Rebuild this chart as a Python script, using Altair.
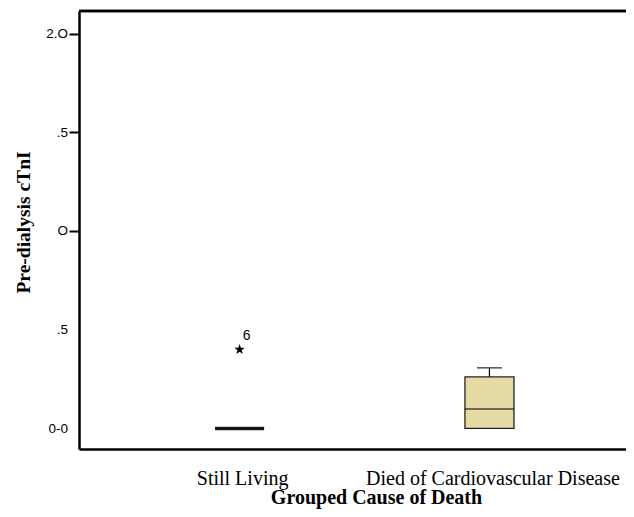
import altair as alt
import pandas as pd

# ---- data ----
categories = ["Still Living", "Died of Cardiovascular Disease"]
box_min = [0.0, 0.0]
box_q1 = [0.0, 0.0]
box_median = [0.0, 0.099]
box_q3 = [0.0, 0.261]
box_max = [0.0, 0.307]

outlier_category = ["Still Living"]
outlier_value = [0.40]
outlier_label = ["6"]

y_ticks = [0.0, 0.5, 1.0, 1.5, 2.0]
y_tick_labels = ["0-0", ".5", "O", ".5", "2.O"]

# ---- tables ----
boxes = pd.DataFrame({
    "cat": categories,
    "idx": list(range(len(categories))),
    "mn": box_min, "q1": box_q1, "med": box_median, "q3": box_q3, "mx": box_max,
})
outliers = pd.DataFrame({
    "cat": outlier_category,
    "idx": [categories.index(c) for c in outlier_category],
    "v": outlier_value,
    "lab": outlier_label,
})

W, H = 547, 438

label_expr_x = " : ".join(
    [f"datum.value == {i} ? '{c}'" for i, c in enumerate(categories)] + ["''"]
)
label_expr_y = " : ".join(
    [f"abs(datum.value - {t}) < 0.001 ? '{l}'" for t, l in zip(y_ticks, y_tick_labels)] + ["''"]
)

# category 0 at 158.5px, category 1 at 413px from the plot's left edge
x_scale = alt.Scale(domain=[-158.5 / 254.5, (W - 158.5) / 254.5], nice=False, zero=False)
y_scale = alt.Scale(domain=[-0.104, 2.114], nice=False, zero=False)

x_axis = alt.Axis(
    values=list(range(len(categories))),
    labelExpr=label_expr_x,
    title="Grouped Cause of Death",
    ticks=False, tickSize=0, grid=False,
    domainColor="black", domainWidth=2.5,
    labelFont="Liberation Serif", labelFontSize=20, labelColor="black",
    labelBaseline="alphabetic", labelPadding=35, labelFlush=False, labelLimit=0,
    labelOverlap=False,
    labelOffset={"condition": {"test": "datum.value == 1", "value": 3}, "value": 2.5},
    titleFont="Liberation Serif", titleFontSize=20, titleFontWeight="bold",
    titleColor="black", titleX=297, titleY=54, titleBaseline="alphabetic",
    titleAlign="center", titleAnchor="start",
)
y_axis = alt.Axis(
    values=y_ticks,
    labelExpr=label_expr_y,
    title="Pre-dialysis cTnI",
    grid=False,
    domainColor="black", domainWidth=2.5,
    tickSize=10, tickWidth=2,
    tickColor={"condition": {"test": "datum.value >= 1", "value": "black"}, "value": "transparent"},
    labelFont="Liberation Sans", labelFontSize=13.5, labelColor="black",
    labelPadding=1.5, labelBaseline="middle",
    titleFont="Liberation Serif", titleFontSize=19.5, titleFontWeight="bold",
    titleColor="black", titleX=-56, titleY=211, titleAngle=270,
    titleAlign="center", titleBaseline="middle", titleAnchor="start",
)

X = alt.X("idx:Q", scale=x_scale, axis=x_axis)

base = alt.Chart(boxes)

upper_whisker = base.mark_rule(color="black", strokeWidth=1.2).encode(
    x=X, y=alt.Y("q3:Q", scale=y_scale, axis=y_axis), y2="mx:Q")
lower_whisker = base.mark_rule(color="black", strokeWidth=1.2).encode(
    x=X, y=alt.Y("mn:Q", scale=y_scale, axis=y_axis), y2="q1:Q")
upper_cap = base.mark_tick(color="black", size=25, thickness=1.5, orient="horizontal").encode(
    x=X, y=alt.Y("mx:Q", scale=y_scale, axis=y_axis))
box = base.mark_bar(size=49, fill="#E6DBA5", stroke="#222222").encode(
    x=X,
    y=alt.Y("q1:Q", scale=y_scale, axis=y_axis), y2="q3:Q",
    strokeWidth=alt.condition("datum.q3 == datum.q1", alt.value(3.5), alt.value(1.3)),
)
median = base.mark_tick(color="black", size=49, thickness=1.5, orient="horizontal").encode(
    x=X, y=alt.Y("med:Q", scale=y_scale, axis=y_axis))

star = "M0,-1L0.235,-0.324L0.951,-0.309L0.38,0.124L0.588,0.809L0,0.4L-0.588,0.809L-0.38,0.124L-0.951,-0.309L-0.235,-0.324Z"
out_pts = alt.Chart(outliers).mark_point(
    shape=star, filled=True, color="black", size=120, opacity=1
).encode(x=X, y=alt.Y("v:Q", scale=y_scale, axis=y_axis))
out_txt = alt.Chart(outliers).mark_text(
    font="Liberation Sans", fontSize=14, color="black", dx=7, dy=-13,
    align="center", baseline="middle"
).encode(x=X, y=alt.Y("v:Q", scale=y_scale, axis=y_axis), text="lab:N")

top_frame = alt.Chart(boxes).mark_rule(color="black", strokeWidth=2.5).encode(
    x=alt.value(0), x2=alt.value(W), y=alt.value(0))

chart = alt.layer(
    upper_whisker, lower_whisker, upper_cap, box, median, out_pts, out_txt, top_frame
).properties(
    width=W, height=H,
    autosize=alt.AutoSizeParams(type="none"),
    padding={"left": 71, "top": 3, "right": 0, "bottom": 60},
    background="white",
).configure_view(stroke=None)

chart.save("out.html", embed_options={"renderer": "svg", "actions": False})
